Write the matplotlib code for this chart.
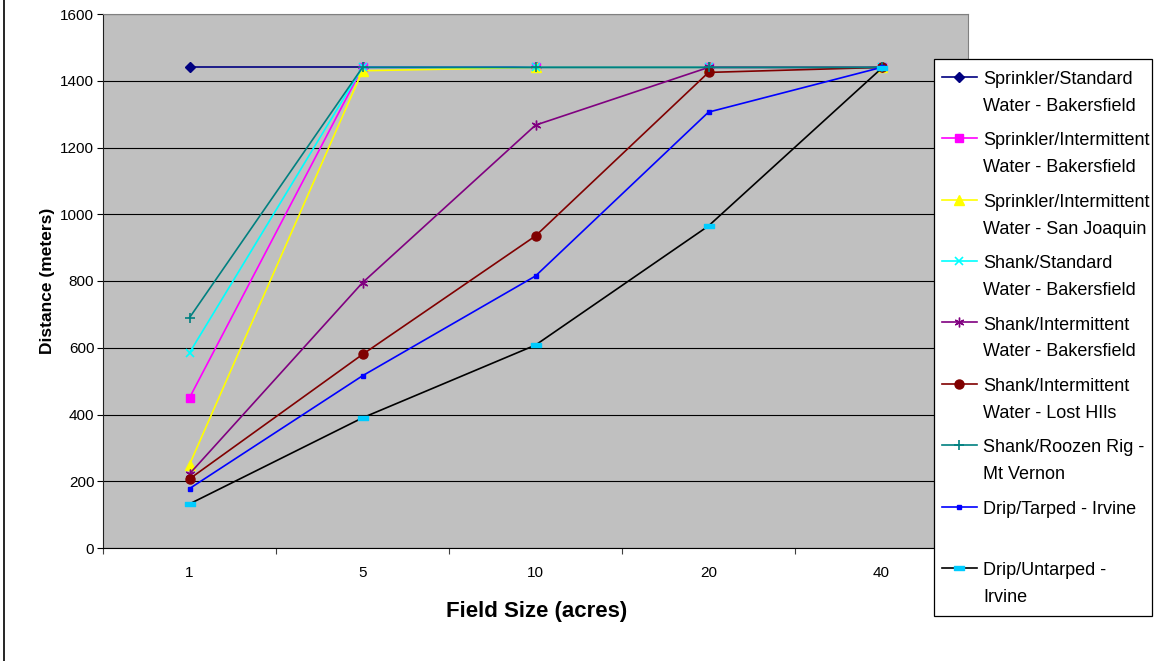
import matplotlib
matplotlib.use("Agg")
import matplotlib.pyplot as plt
from matplotlib.lines import Line2D
from matplotlib.patches import Rectangle
from matplotlib.path import Path

plt.rcParams['font.family'] = ['Liberation Sans', 'DejaVu Sans']

# ---- data -------------------------------------------------------------
field_sizes = ['1', '5', '10', '20', '40']

series_labels = [
    "Sprinkler/Standard\nWater - Bakersfield",
    "Sprinkler/Intermittent\nWater - Bakersfield",
    "Sprinkler/Intermittent\nWater - San Joaquin",
    "Shank/Standard\nWater - Bakersfield",
    "Shank/Intermittent\nWater - Bakersfield",
    "Shank/Intermittent\nWater - Lost HIls",
    "Shank/Roozen Rig -\nMt Vernon",
    "Drip/Tarped - Irvine",
    "Drip/Untarped -\nIrvine",
]

sprinkler_std_bakersfield = [1440, 1440, 1440, 1440, 1440]
sprinkler_int_bakersfield = [450, 1440, 1440, 1440, 1440]
sprinkler_int_san_joaquin = [250, 1430, 1440, 1440, 1440]
shank_std_bakersfield = [585, 1440, 1440, 1440, 1440]
shank_int_bakersfield = [222, 795, 1267, 1440, 1440]
shank_int_lost_hills = [207, 580, 935, 1425, 1440]
shank_roozen_mt_vernon = [690, 1440, 1440, 1440, 1440]
drip_tarped_irvine = [178, 516, 815, 1306, 1440]
drip_untarped_irvine = [132, 390, 608, 965, 1437]

series_values = [
    sprinkler_std_bakersfield, sprinkler_int_bakersfield, sprinkler_int_san_joaquin,
    shank_std_bakersfield, shank_int_bakersfield, shank_int_lost_hills,
    shank_roozen_mt_vernon, drip_tarped_irvine, drip_untarped_irvine,
]

# ---- styles ---------------------------------------------------------
dash_marker = Path([(-1, -0.4), (1, -0.4), (1, 0.4), (-1, 0.4), (-1, -0.4)],
                   [Path.MOVETO, Path.LINETO, Path.LINETO, Path.LINETO, Path.CLOSEPOLY])
styles = [
    dict(color='#000080', marker='D', ms=5.0, mfc='#000080', mec='#000080'),
    dict(color='#FF00FF', marker='s', ms=6.0, mfc='#FF00FF', mec='#FF00FF'),
    dict(color='#FFFF00', marker='^', ms=6.5, mfc='#FFFF00', mec='#FFFF00'),
    dict(color='#00FFFF', marker='x', ms=6.0, mfc='#00FFFF', mec='#00FFFF', mew=1.2),
    dict(color='#800080', marker=(6, 2, 0), ms=7.0, mfc='#800080', mec='#800080', mew=1.0),
    dict(color='#800000', marker='o', ms=6.5, mfc='#800000', mec='#800000'),
    dict(color='#008080', marker='+', ms=7.0, mfc='#008080', mec='#008080', mew=1.2),
    dict(color='#0000FF', marker='s', ms=3.5, mfc='#0000FF', mec='#0000FF'),
    dict(color='#000000', marker=dash_marker, ms=7.5, mfc='#00CCFF', mec='#00CCFF'),
]

W, H = 1156, 661
fig = plt.figure(figsize=(W / 100, H / 100), dpi=100)
fig.patch.set_facecolor('white')

def fx(px):
    return px / W

def fy(py):
    return 1 - py / H

# plot area
left, right, top, bottom = 103, 968, 14, 548
ax = fig.add_axes([fx(left), fy(bottom), (right - left) / W, (bottom - top) / H])
ax.set_facecolor('#C0C0C0')

x = list(range(len(field_sizes)))
for vals, st in zip(series_values, styles):
    ax.plot(x, vals, lw=1.2, clip_on=False, **st)

ax.set_xlim(-0.5, len(field_sizes) - 0.5)
ax.set_ylim(0, 1600)
ax.set_yticks(range(0, 1601, 200))
ax.set_xticks(x)
ax.set_xticklabels(field_sizes)
ax.set_xticks([i - 0.5 for i in range(len(field_sizes) + 1)], minor=True)

ax.yaxis.grid(True, color='black', lw=0.8)
ax.set_axisbelow(True)

ax.tick_params(axis='y', direction='out', length=4.3, width=0.8, pad=2,
               labelsize=11, colors='black')
ax.tick_params(axis='x', which='major', length=0, pad=13, labelsize=11)
ax.tick_params(axis='x', which='minor', direction='out', length=4, width=0.8,
               color='#404040')

for side in ('top', 'right'):
    ax.spines[side].set_color('#808080')
    ax.spines[side].set_linewidth(0.8)
ax.spines['left'].set_color('#202020')
ax.spines['left'].set_linewidth(0.8)
ax.spines['bottom'].set_color('black')
ax.spines['bottom'].set_linewidth(0.8)

# axis titles
fig.text(fx(48), fy(281), "Distance (meters)", rotation=90, ha='center', va='center',
         fontsize=12.5, fontweight='bold')
fig.text(fx(537), fy(617), "Field Size (acres)", ha='center', va='baseline',
         fontsize=16, fontweight='bold')

# outer frame line on the left edge
fig.add_artist(Line2D([fx(3.5), fx(3.5)], [0, 1], color='black', lw=1.2))

# legend box
lx0, ly0, lx1, ly1 = 934.3, 59.3, 1151.7, 616
fig.add_artist(Rectangle((fx(lx0), fy(ly1)), (lx1 - lx0) / W, (ly1 - ly0) / H,
                         facecolor='white', edgecolor='black', lw=0.9,
                         transform=fig.transFigure, zorder=5))
row0, row_step = 76.7, 61.4
for k, (lab, st) in enumerate(zip(series_labels, styles)):
    ry = row0 + k * row_step
    fig.add_artist(Line2D([fx(941.7), fx(976.7)], [fy(ry), fy(ry)],
                          color=st['color'], lw=1.2, zorder=6))
    mk = {key: v for key, v in st.items() if key != 'color'}
    fig.add_artist(Line2D([fx(959)], [fy(ry)], ls='none', zorder=7, **mk))
    for j, line in enumerate(lab.split('\n')):
        fig.text(fx(983.3), fy(ry + 7.3 + j * 26.7), line, ha='left', va='baseline',
                 fontsize=13, zorder=7)

fig.savefig('out.png', dpi=100)
